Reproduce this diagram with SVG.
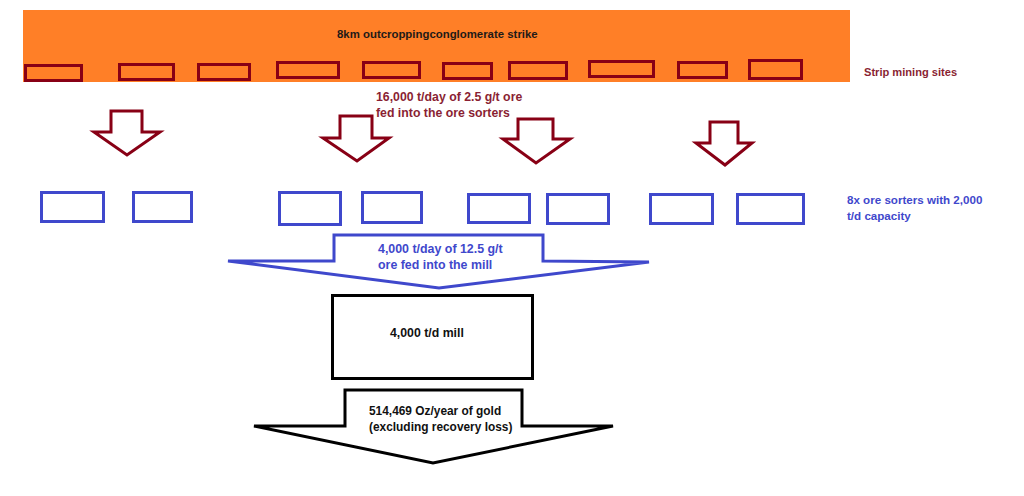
<svg xmlns="http://www.w3.org/2000/svg" width="1024" height="496" viewBox="0 0 1024 496">
<style>
text{font-family:"Liberation Sans",Arial,sans-serif;font-weight:bold}
.site{fill:none;stroke:#880015;stroke-width:3}
.sorter{fill:none;stroke:#3F48CC;stroke-width:3}
.red-arrow{fill:#fff;stroke:#880015;stroke-width:3;stroke-linejoin:miter}
.blue-arrow{fill:#fff;stroke:#3F48CC;stroke-width:3}
.black-arrow{fill:#fff;stroke:#000;stroke-width:3}
.tred{fill:#8a1f33}
.tblue{fill:#3F48CC}
.tdark{fill:#1e1a18}
</style>
<rect width="1024" height="496" fill="#fff"/>
<g id="strike">
<rect x="23" y="10" width="827" height="72" fill="#FF7F27"/>
<text class="tdark" x="337" y="38" font-size="11.4">8km outcroppingconglomerate strike</text>
</g>
<g id="mining-sites">
<rect class="site" x="25.5" y="65.5" width="56" height="15"/>
<rect class="site" x="119.5" y="64.5" width="54" height="15"/>
<rect class="site" x="198.5" y="64.5" width="51" height="15"/>
<rect class="site" x="277.5" y="62.5" width="61" height="15"/>
<rect class="site" x="363.5" y="62.5" width="56" height="15"/>
<rect class="site" x="443.5" y="63.5" width="48" height="15"/>
<rect class="site" x="509.5" y="62.5" width="57" height="16"/>
<rect class="site" x="589.5" y="61.5" width="64" height="15"/>
<rect class="site" x="678.5" y="62.5" width="48" height="15"/>
<rect class="site" x="749.5" y="60.5" width="52" height="18"/>
<text class="tred" x="864" y="76" font-size="11.1">Strip mining sites</text>
</g>
<g id="ore-feed-label">
<text class="tred" x="376" y="101" font-size="12.3">16,000 t/day of 2.5 g/t ore</text>
<text class="tred" x="376" y="117" font-size="12.3">fed into the ore sorters</text>
</g>
<g id="ore-sorters">
<rect class="sorter" x="41.5" y="192.5" width="62" height="29"/>
<rect class="sorter" x="133.5" y="192.5" width="58" height="29"/>
<rect class="sorter" x="279.5" y="192.5" width="61" height="32"/>
<rect class="sorter" x="362.5" y="192.5" width="59" height="30"/>
<rect class="sorter" x="468.5" y="194.5" width="61" height="28"/>
<rect class="sorter" x="547.5" y="194.5" width="61" height="29"/>
<rect class="sorter" x="650.5" y="194.5" width="62" height="29"/>
<rect class="sorter" x="737.5" y="194.5" width="66" height="29"/>
<text class="tblue" x="847" y="204" font-size="11.6">8x ore sorters with 2,000</text>
<text class="tblue" x="847" y="220" font-size="11.6">t/d capacity</text>
</g>
<g id="mill">
<rect x="332.5" y="295.5" width="200" height="83" fill="#fff" stroke="#000" stroke-width="3"/>
<text fill="#111" x="390" y="337" font-size="12.3">4,000 t/d mill</text>
</g>
<g id="connectors">
<polygon class="red-arrow" points="111,111 142,111 142,132 160,132 127,155 94,132 111,132"/>
<polygon class="red-arrow" points="340,116 372,116 372,138 389,138 357,161 323,138 340,138"/>
<polygon class="red-arrow" points="518,119 553,119 553,139 570,139 536,163 503,139 518,139"/>
<polygon class="red-arrow" points="710,122 738,122 738,143 752,143 725,165 696,143 710,143"/>
<polygon class="blue-arrow" points="334,235 543,235 543,261 649,262 439,288 228,261 334,261"/>
<text class="tblue" x="378" y="253" font-size="12.4">4,000 t/day of 12.5 g/t</text>
<text class="tblue" x="378" y="269" font-size="12.4">ore fed into the mill</text>
<polygon class="black-arrow" points="345,390 522,390 522,426 613,426 433,463 254,426 345,426"/>
<text fill="#111" x="369" y="415" font-size="11.9">514,469 Oz/year of gold</text>
<text fill="#111" x="369" y="431" font-size="11.9">(excluding recovery loss)</text>
</g>
</svg>
